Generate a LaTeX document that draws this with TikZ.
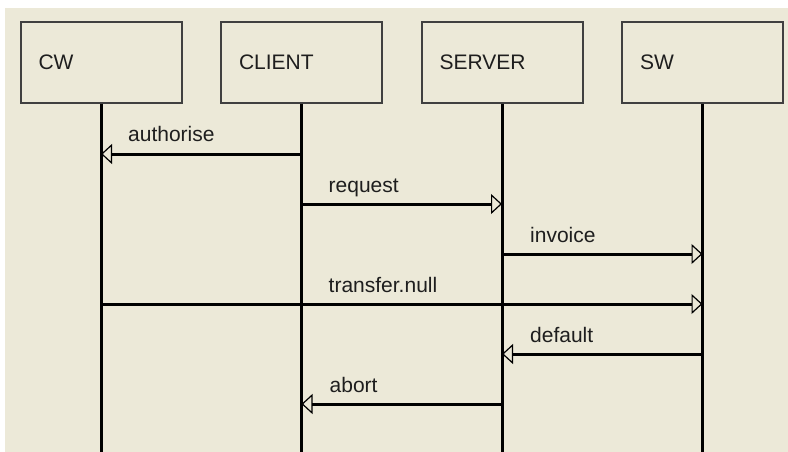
\documentclass[tikz,border=0pt]{standalone}
\usepackage{fontspec}
\setmainfont{Liberation Sans}
\usepackage{tikz}
\usetikzlibrary{positioning,arrows.meta}
\definecolor{WinBeige}{RGB}{236,233,216}
\definecolor{InkGray}{RGB}{30,30,30}
\tikzset{
  actor/.style={rectangle, draw=black!75, line width=2pt, fill=WinBeige,
    minimum width=161pt, minimum height=81pt, text width=125pt, inner xsep=18pt,
    align=left, text=InkGray, font=\fontsize{21}{25}\selectfont},
  lifeline/.style={line width=3pt, draw=black},
  msg/.style={line width=3pt, draw=black,
    -{Triangle[fill=WinBeige, line width=1.2pt, length=11pt, width=20pt]}},
  msglabel/.style={anchor=base west, inner sep=0pt, text=InkGray,
    font=\fontsize{21}{25}\selectfont}
}

\begin{document}
\begin{tikzpicture}[x=1pt, y=-1pt, node distance=37.5pt]
  % canvas
  \fill[white] (0,0) rectangle (788,452);
  \fill[WinBeige] (5,8) rectangle (788,452);
  \useasboundingbox (0,0) rectangle (788,452);
  % time rows and bottom of the lifelines
  \foreach \i in {1,...,6}
    \coordinate (t\i) at (0,104+50*\i);
  \coordinate (bottom) at (0,452);
  % participants
  \node[actor] (cw) at (101,62.5) {CW};
  \node[actor, right=of cw] (client) {CLIENT};
  \node[actor, right=of client] (server) {SERVER};
  \node[actor, right=of server] (sw) {SW};
  \foreach \p in {cw,client,server,sw}
    \draw[lifeline] (\p.south) -- (\p |- bottom);
  % messages
  \draw[msg] (client |- t1) -- (cw |- t1);
  \node[msglabel] (l1) at ([shift={(27,-12)}] cw |- t1) {authorise};
  \draw[msg] (client |- t2) -- (server |- t2);
  \node[msglabel] (l2) at ([shift={(27,-12)}] client |- t2) {request};
  \draw[msg] (server |- t3) -- (sw |- t3);
  \node[msglabel] (l3) at ([shift={(28,-12)}] server |- t3) {invoice};
  \draw[msg] (cw |- t4) -- (sw |- t4);
  \node[msglabel] (l4) at ([shift={(27,-12)}] client |- t4) {transfer.null};
  \draw[msg] (sw |- t5) -- (server |- t5);
  \node[msglabel] (l5) at ([shift={(28,-12)}] server |- t5) {default};
  \draw[msg] (server |- t6) -- (client |- t6);
  \node[msglabel] (l6) at ([shift={(28,-12)}] client |- t6) {abort};
\end{tikzpicture}
\end{document}
